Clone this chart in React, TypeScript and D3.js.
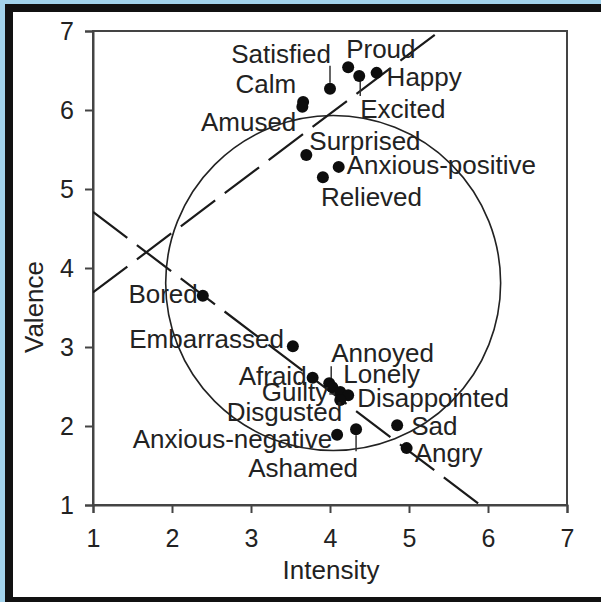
import React, { useEffect, useRef } from 'react';
import * as d3 from 'd3';

// emotion ratings (mean intensity / valence)
const emotions = [
  'Satisfied', 'Proud', 'Excited', 'Happy', 'Calm', 'Amused', 'Surprised',
  'Anxious-positive', 'Relieved', 'Bored', 'Embarrassed', 'Afraid', 'Annoyed',
  'Lonely', 'Disgusted', 'Disappointed', 'Guilty', 'Anxious-negative',
  'Ashamed', 'Sad', 'Angry',
];
const intensity = [
  4.0, 4.23, 4.37, 4.59, 3.66, 3.65, 3.7,
  4.11, 3.91, 2.39, 3.53, 3.78, 3.99,
  4.03, 4.13, 4.23, 4.13, 4.09,
  4.33, 4.85, 4.97,
];
const valence = [
  6.27, 6.54, 6.43, 6.47, 6.1, 6.04, 5.43,
  5.28, 5.15, 3.65, 3.01, 2.61, 2.54,
  2.49, 2.43, 2.39, 2.33, 1.89,
  1.96, 2.01, 1.72,
];

// label placement relative to each dot (px): dx, dy, anchor, leader line
const labelDx = [1, -2, 1, 10, -7, -6, 3, 8, -2, -5, -9, -6, 2, 11, 2, 9, -12, -5, 2, 14, 8];
const labelDy = [-26, -9, 42, 13, -9, 24, -5, 7, 29, 7, 2, 7, -21, -4, 29, 12, 1, 13, 48, 10, 14];
const labelAnchor = [
  'end', 'start', 'start', 'start', 'end', 'end', 'start',
  'start', 'start', 'end', 'end', 'end', 'start',
  'start', 'end', 'start', 'end', 'end',
  'end', 'start', 'start',
];
const leaders: { i: number; x1: number; y1: number; x2: number; y2: number }[] = [
  { i: 0, x1: 0, y1: -23, x2: 0, y2: -6 },
  { i: 2, x1: 1, y1: 4, x2: 1, y2: 20 },
  { i: 12, x1: 2, y1: -17, x2: 2, y2: -5 },
  { i: 16, x1: -11, y1: -6, x2: -3, y2: -6 },
  { i: 18, x1: 0, y1: 6, x2: 0, y2: 22 },
];

// two dashed fit lines: intercept at intensity = 1, slope
const lineStart = [3.69, 4.71];
const lineSlope = [0.754, -0.757];

// circle (centre and radius, data units)
const circleCenter = [4.04, 3.81];
const circleRadius = 2.12;

const xTicks = [1, 2, 3, 4, 5, 6, 7];
const yTicks = [1, 2, 3, 4, 5, 6, 7];

const FONT = '"Liberation Sans", Arial, sans-serif';

function EmotionChart() {
  const svgRef = useRef<SVGSVGElement>(null);

  useEffect(() => {
    const svg = d3.select(svgRef.current);
    svg.selectAll('*').remove();

    // frame
    svg.append('rect').attr('width', 601).attr('height', 602).attr('fill', '#a3d3ec');
    svg.append('rect').attr('x', 5).attr('y', 4).attr('width', 596).attr('height', 598).attr('fill', '#111');
    svg.append('rect').attr('x', 13).attr('y', 12).attr('width', 588).attr('height', 585).attr('fill', '#fff');

    const x = d3.scaleLinear().domain([1, 7]).range([93, 567]);
    const y = d3.scaleLinear().domain([1, 7]).range([505, 31]);
    const ink = '#222';

    const defs = svg.append('defs');
    defs.append('clipPath').attr('id', 'plot-clip')
      .append('rect').attr('x', 93).attr('y', 31).attr('width', 474).attr('height', 474);

    // box
    svg.append('rect')
      .attr('x', x(1)).attr('y', y(7))
      .attr('width', x(7) - x(1)).attr('height', y(1) - y(7))
      .attr('fill', 'none').attr('stroke', '#444').attr('stroke-width', 2);

    // axes
    const xAxis = svg.append('g').attr('transform', `translate(0,${y(1)})`)
      .call(d3.axisBottom(x).tickValues(xTicks).tickSize(8).tickFormat(d3.format('d')));
    const yAxis = svg.append('g').attr('transform', `translate(${x(1)},0)`)
      .call(d3.axisLeft(y).tickValues(yTicks).tickSize(8).tickFormat(d3.format('d')));
    [xAxis, yAxis].forEach(ax => {
      ax.select('.domain').attr('stroke', '#444').attr('stroke-width', 2);
      ax.selectAll('.tick line').attr('stroke', '#444').attr('stroke-width', 2);
      ax.selectAll('.tick text')
        .attr('fill', ink).style('font-family', FONT).style('font-size', '25px');
    });
    xAxis.selectAll('.tick text').attr('y', 0).attr('dy', '42px');
    yAxis.selectAll('.tick text').attr('x', -19).attr('dy', '8.5px');

    svg.append('text')
      .attr('x', 331).attr('y', 579)
      .attr('text-anchor', 'middle')
      .attr('fill', ink).style('font-family', FONT).style('font-size', '26px')
      .text('Intensity');
    svg.append('text')
      .attr('transform', 'translate(43,307) rotate(-90)')
      .attr('text-anchor', 'middle')
      .attr('fill', ink).style('font-family', FONT).style('font-size', '26px')
      .text('Valence');

    const plot = svg.append('g').attr('clip-path', 'url(#plot-clip)');

    // circle
    plot.append('circle')
      .attr('cx', x(circleCenter[0])).attr('cy', y(circleCenter[1]))
      .attr('r', x(1 + circleRadius) - x(1))
      .attr('fill', 'none').attr('stroke', '#222').attr('stroke-width', 1.6);

    // dashed lines
    lineStart.forEach((b, k) => {
      const m = lineSlope[k];
      const xEnd = m > 0 ? 1 + (7 - b) / m : 1 + (1 - b) / m;
      plot.append('line')
        .attr('x1', x(1)).attr('y1', y(b))
        .attr('x2', x(xEnd)).attr('y2', y(b + m * (xEnd - 1)))
        .attr('stroke', '#1a1a1a').attr('stroke-width', 2.2)
        .attr('stroke-dasharray', '43,12');
    });

    // leader lines
    leaders.forEach(l => {
      const cx = x(intensity[l.i]);
      const cy = y(valence[l.i]);
      svg.append('line')
        .attr('x1', cx + l.x1).attr('y1', cy + l.y1)
        .attr('x2', cx + l.x2).attr('y2', cy + l.y2)
        .attr('stroke', '#333').attr('stroke-width', 1.5);
    });

    // points
    svg.selectAll('.dot')
      .data(emotions)
      .enter()
      .append('circle')
      .attr('class', 'dot')
      .attr('cx', (d, i) => x(intensity[i]))
      .attr('cy', (d, i) => y(valence[i]))
      .attr('r', 6)
      .attr('fill', '#0d0d0d');

    // labels
    svg.selectAll('.label')
      .data(emotions)
      .enter()
      .append('text')
      .attr('class', 'label')
      .attr('x', (d, i) => x(intensity[i]) + labelDx[i])
      .attr('y', (d, i) => y(valence[i]) + labelDy[i])
      .attr('text-anchor', (d, i) => labelAnchor[i])
      .attr('fill', ink)
      .style('font-family', FONT)
      .style('font-size', '26px')
      .text(d => d);
  }, []);

  return <svg ref={svgRef} width={601} height={602} style={{ display: 'block' }}></svg>;
}

export default function App() {
  return (
    <div style={{ position: 'absolute', left: 0, top: 0 }}>
      <EmotionChart />
    </div>
  );
}
